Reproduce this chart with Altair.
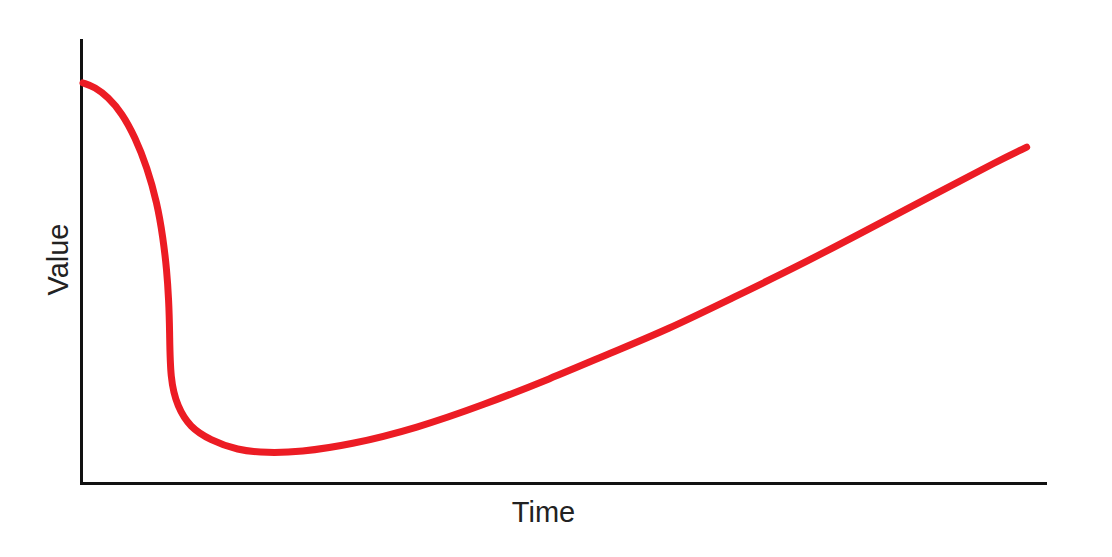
import altair as alt
import pandas as pd

# Values (Time 0-100 across the axis, Value 0-100 up the axis)
time = [0.21, 1.45, 2.8, 4.25, 5.6, 6.85, 7.9, 8.5, 8.9, 9.1, 9.2, 9.25, 10.0, 11.3,
        13.4, 16.2, 19.3, 22.7, 27.9, 34.85, 41.7, 48.65, 55.0, 60.8, 67.6, 74.6,
        81.5, 88.4, 95.3, 98.1]
value = [90.3, 89.4, 87.1, 83.5, 78.1, 71.3, 63.2, 55.5, 48.1, 41.3, 34.5, 23.3, 17.2, 12.6,
         9.7, 7.4, 6.8, 7.0, 8.6, 12.4, 17.6, 23.5, 29.4, 34.6, 41.8, 49.2,
         57.1, 65.0, 72.9, 75.8]

df = pd.DataFrame({"Time": time, "Value": value})

font = "Liberation Sans"

chart = alt.Chart(df).mark_line(
    color="#ec1c24", strokeWidth=7, interpolate="basis", strokeCap="round"
).encode(
    x=alt.X("Time:Q",
            scale=alt.Scale(domain=[0, 100], nice=False, zero=False),
            axis=alt.Axis(title="Time", labels=False, ticks=False, grid=False,
                          domainColor="#111111", domainWidth=3, domainCap="square",
                          titleFont=font, titleFontSize=29, titleFontWeight="normal",
                          titleColor="#222222", titleX=462, titleY=38,
                          titleBaseline="alphabetic", titleAlign="center")),
    y=alt.Y("Value:Q",
            scale=alt.Scale(domain=[0, 100], nice=False, zero=False),
            axis=alt.Axis(title="Value", labels=False, ticks=False, grid=False,
                          domainColor="#111111", domainWidth=3, domainCap="square",
                          titleFont=font, titleFontSize=29, titleFontWeight="normal",
                          titleColor="#222222", titleX=-14, titleY=219, titleAngle=-90,
                          titleBaseline="alphabetic", titleAlign="center")),
).properties(
    width=964,
    height=443,
    background="white",
    autosize=alt.AutoSizeParams(type="none"),
    padding={"left": 73, "top": 32, "right": 40, "bottom": 50},
).configure_view(strokeWidth=0, strokeOpacity=0)

chart.save("out.html", embed_options={"renderer": "svg", "actions": False})
